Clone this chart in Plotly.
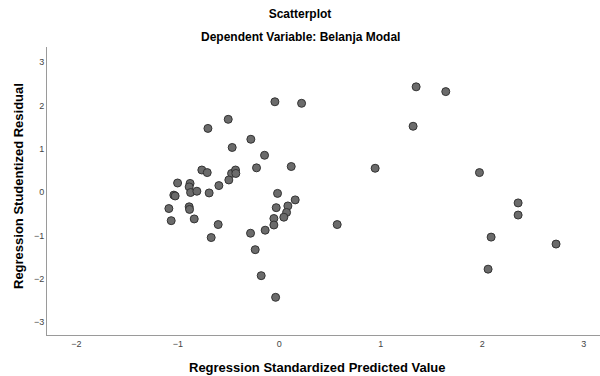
import plotly.graph_objects as go

# Regression standardized predicted values (x) and studentized residuals (y)
pred = [-0.044, 0.219, -0.504, -0.704, -0.281, -0.465, -0.146, -0.225, 0.117, -0.764,
        -0.711, -0.471, -0.432, -0.429, -0.498, -0.596, -1.003, -0.880, -0.889, -1.040,
        -1.027, -0.875, -0.813, -0.692, -1.089, -0.889, -0.885, -1.066, -0.839, -0.603,
        -0.672, -0.018, 0.156, 0.084, -0.031, 0.071, 0.044, -0.054, -0.054, -0.140,
        -0.284, -0.238, -0.179, -0.037,
        1.348, 1.640, 1.318, 0.944, 1.972, 2.353, 2.353, 0.570, 2.087, 2.727, 2.057]
resid = [2.085, 2.05, 1.68, 1.47, 1.22, 1.03, 0.85, 0.56, 0.59, 0.51,
         0.45, 0.43, 0.51, 0.43, 0.28, 0.15, 0.21, 0.20, 0.12, -0.07,
         -0.09, -0.01, 0.02, -0.02, -0.38, -0.34, -0.40, -0.66, -0.62, -0.75,
         -1.05, -0.03, -0.18, -0.32, -0.36, -0.47, -0.58, -0.61, -0.76, -0.88,
         -0.95, -1.33, -1.93, -2.43,
         2.43, 2.32, 1.52, 0.55, 0.45, -0.25, -0.53, -0.75, -1.04, -1.20, -1.78]

x_ticks = [-2, -1, 0, 1, 2, 3]
y_ticks = [-3, -2, -1, 0, 1, 2, 3]

FONT = "Liberation Sans, Arial, sans-serif"

fig = go.Figure()
fig.add_trace(go.Scatter(
    x=pred, y=resid, mode="markers",
    marker=dict(size=8, color="#6b6b6b", line=dict(color="#333333", width=1)),
    showlegend=False, hoverinfo="skip"))

L, R, T, B = 47, 0, 47, 41
W, H = 600, 376
pw, ph = W - L - R, H - T - B


def px_x(p):
    return (p - L) / pw


def px_y(p):
    return (H - B - p) / ph


ann = [
    dict(text="<b>Dependent Variable: Belanja Modal</b>", x=px_x(300), y=px_y(37),
         xanchor="center", yanchor="middle", font=dict(size=12)),
    dict(text="<b>Regression Standardized Predicted Value</b>", x=px_x(317), y=px_y(367),
         xanchor="center", yanchor="middle", font=dict(size=13)),
    dict(text="<b>Regression Studentized Residual</b>", x=px_x(18), y=px_y(186),
         xanchor="center", yanchor="middle", textangle=-90, font=dict(size=13)),
]
for a in ann:
    a.update(xref="paper", yref="paper", showarrow=False)
    a["font"].update(family=FONT, color="#000000")

fig.update_layout(
    width=W, height=H,
    margin=dict(l=L, r=R, t=T, b=B, pad=0),
    paper_bgcolor="white", plot_bgcolor="white",
    font=dict(family=FONT, color="#000000"),
    title=dict(text="<b>Scatterplot</b>", x=0.5, xref="container", xanchor="center",
               y=1 - 14 / H, yref="container", yanchor="middle",
               font=dict(size=12, family=FONT, color="#000000")),
    annotations=ann,
    xaxis=dict(range=[-2.29, 3.16], tickvals=x_ticks, ticks="", showgrid=False,
               zeroline=False, showline=True, linecolor="#9a9a9a", linewidth=1,
               automargin=False,
               tickfont=dict(size=9, color="#444444", family=FONT)),
    yaxis=dict(range=[-3.30, 3.35], tickvals=y_ticks, ticks="", showgrid=False,
               zeroline=False, showline=True, linecolor="#9a9a9a", linewidth=1,
               automargin=False,
               tickfont=dict(size=9, color="#444444", family=FONT)),
)

fig.write_html("out.html",
               config={"displayModeBar": False, "staticPlot": True},
               post_script="document.body.style.margin='0';document.body.style.overflow='hidden';")
